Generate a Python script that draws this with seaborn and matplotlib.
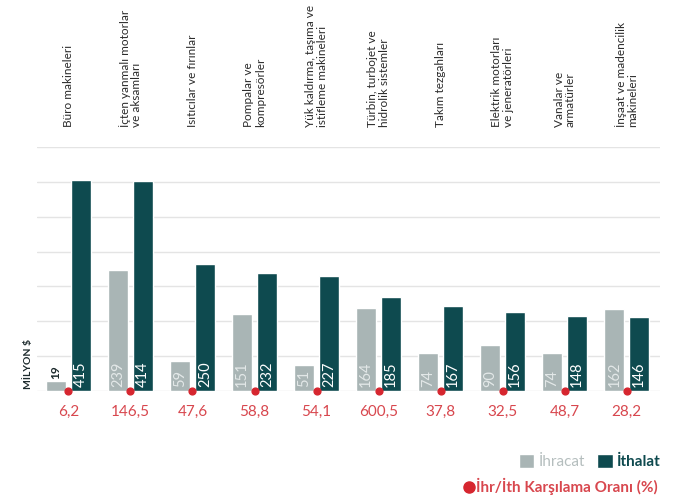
import numpy as np
import pandas as pd
import matplotlib
matplotlib.use("Agg")
import matplotlib.pyplot as plt
import matplotlib.transforms as mtransforms
from matplotlib.patches import Patch
from matplotlib.lines import Line2D
import seaborn as sns

# chart data
categories = [
    "Büro makineleri",
    "İçten yanmalı motorlar\nve aksamları",
    "Isıtıcılar ve fırınlar",
    "Pompalar ve\nkompresörler",
    "Yük kaldırma, taşıma ve\nistifleme makineleri",
    "Türbin, turbojet ve\nhidrolik sistemler",
    "Takım tezgahları",
    "Elektrik motorları\nve jeneratörleri",
    "Vanalar ve\narmatürler",
    "İnşaat ve madencilik\nmakineleri",
]
ihracat = [19, 239, 59, 151, 51, 164, 74, 90, 74, 162]
ithalat = [415, 414, 250, 232, 227, 185, 167, 156, 148, 146]
oran = ["6,2", "146,5", "47,6", "58,8", "54,1", "600,5", "37,8", "32,5", "48,7", "28,2"]

GREY = "#a9b5b5"
DARK = "#0e4a4f"
RED = "#d6262f"
RED_TXT = "#d8474e"

sns.set_style("white")
plt.rcParams["font.family"] = ["Lato", "DejaVu Sans"]

df = pd.DataFrame({
    "kategori": categories * 2,
    "deger": ihracat + ithalat,
    "tur": ["İhracat"] * len(categories) + ["İthalat"] * len(categories),
})

fig = plt.figure(figsize=(6.8, 4.98), dpi=100)
ax = fig.add_axes([0.054, 0.2149, 0.917, 0.4899])

sns.barplot(data=df, x="kategori", y="deger", hue="tur", order=categories,
            palette={"İhracat": GREY, "İthalat": DARK}, width=0.8, gap=0.2,
            saturation=1, legend=False, ax=ax, zorder=2)

ax.set_ylim(0, 480)
ax.set_xlim(-0.51, 9.54)
ax.set_yticks(np.linspace(0, 480, 8))
ax.yaxis.grid(True, color="#e4e4e4", linewidth=1)
ax.set_axisbelow(True)
ax.set_yticklabels([])
ax.set_xticks([])
ax.set_xlabel("")
ax.set_ylabel("")
ax.tick_params(left=False, bottom=False)
for s in ax.spines.values():
    s.set_visible(False)

# value labels inside bars
for cont, vals, col in zip(ax.containers, [ihracat, ithalat], ["#e3e8e8", "white"]):
    for patch, v in zip(cont.patches, vals):
        xc = patch.get_x() + patch.get_width() / 2
        if v < 40:
            ax.annotate(str(v), (xc, v), xytext=(0, 2), textcoords="offset points",
                        rotation=90, ha="center", va="bottom", fontsize=8.5,
                        fontweight="bold", color="#1c2a2c")
        else:
            ax.annotate(str(v), (xc, 0), xytext=(0, 3), textcoords="offset points",
                        rotation=90, ha="center", va="bottom", fontsize=10.5, color=col)

# red dots on baseline + ratio labels
xs = np.arange(len(categories))
ax.scatter(xs, np.zeros(len(xs)), s=24, color=RED, zorder=5, clip_on=False)
trans = mtransforms.blended_transform_factory(ax.transData, fig.transFigure)
for x, r in zip(xs, oran):
    ax.text(x, 0.172, r, transform=trans, ha="center", va="center",
            fontsize=11, color=RED_TXT)

# category labels on top
for x, c in zip(xs, categories):
    ax.text(x, 0.745, c, transform=trans, rotation=90, ha="center", va="bottom",
            multialignment="left", fontsize=8.5, color="#2a2a2a", linespacing=1.05)

fig.text(0.041, 0.269, "MİLYON $", rotation=90, ha="center", va="center",
         fontsize=7.5, fontweight="bold", color="#1c2a2c")

# legends
h1 = [Patch(facecolor=GREY), Patch(facecolor=DARK)]
leg1 = fig.legend(h1, ["İhracat", "İthalat"], ncol=2, loc="lower right",
                  bbox_to_anchor=(0.972, 0.058), bbox_transform=fig.transFigure,
                  frameon=False, fontsize=11,
                  handlelength=1.0, handleheight=1.0, handletextpad=0.3,
                  columnspacing=0.8, borderaxespad=0, borderpad=0)
t1, t2 = leg1.get_texts()
t1.set_color("#b5bebe")
t2.set_color(DARK)
t2.set_fontweight("bold")

h2 = [Line2D([], [], marker="o", linestyle="none", color=RED, markersize=8)]
leg2 = fig.legend(h2, ["İhr/İth Karşılama Oranı (%)"], loc="lower right",
                  bbox_to_anchor=(0.968, 0.006), bbox_transform=fig.transFigure,
                  frameon=False, fontsize=11,
                  handlelength=0.5, handletextpad=0.25, borderaxespad=0, borderpad=0)
leg2.get_texts()[0].set_color(RED_TXT)
leg2.get_texts()[0].set_fontweight("bold")

fig.savefig("out.png", dpi=100)
